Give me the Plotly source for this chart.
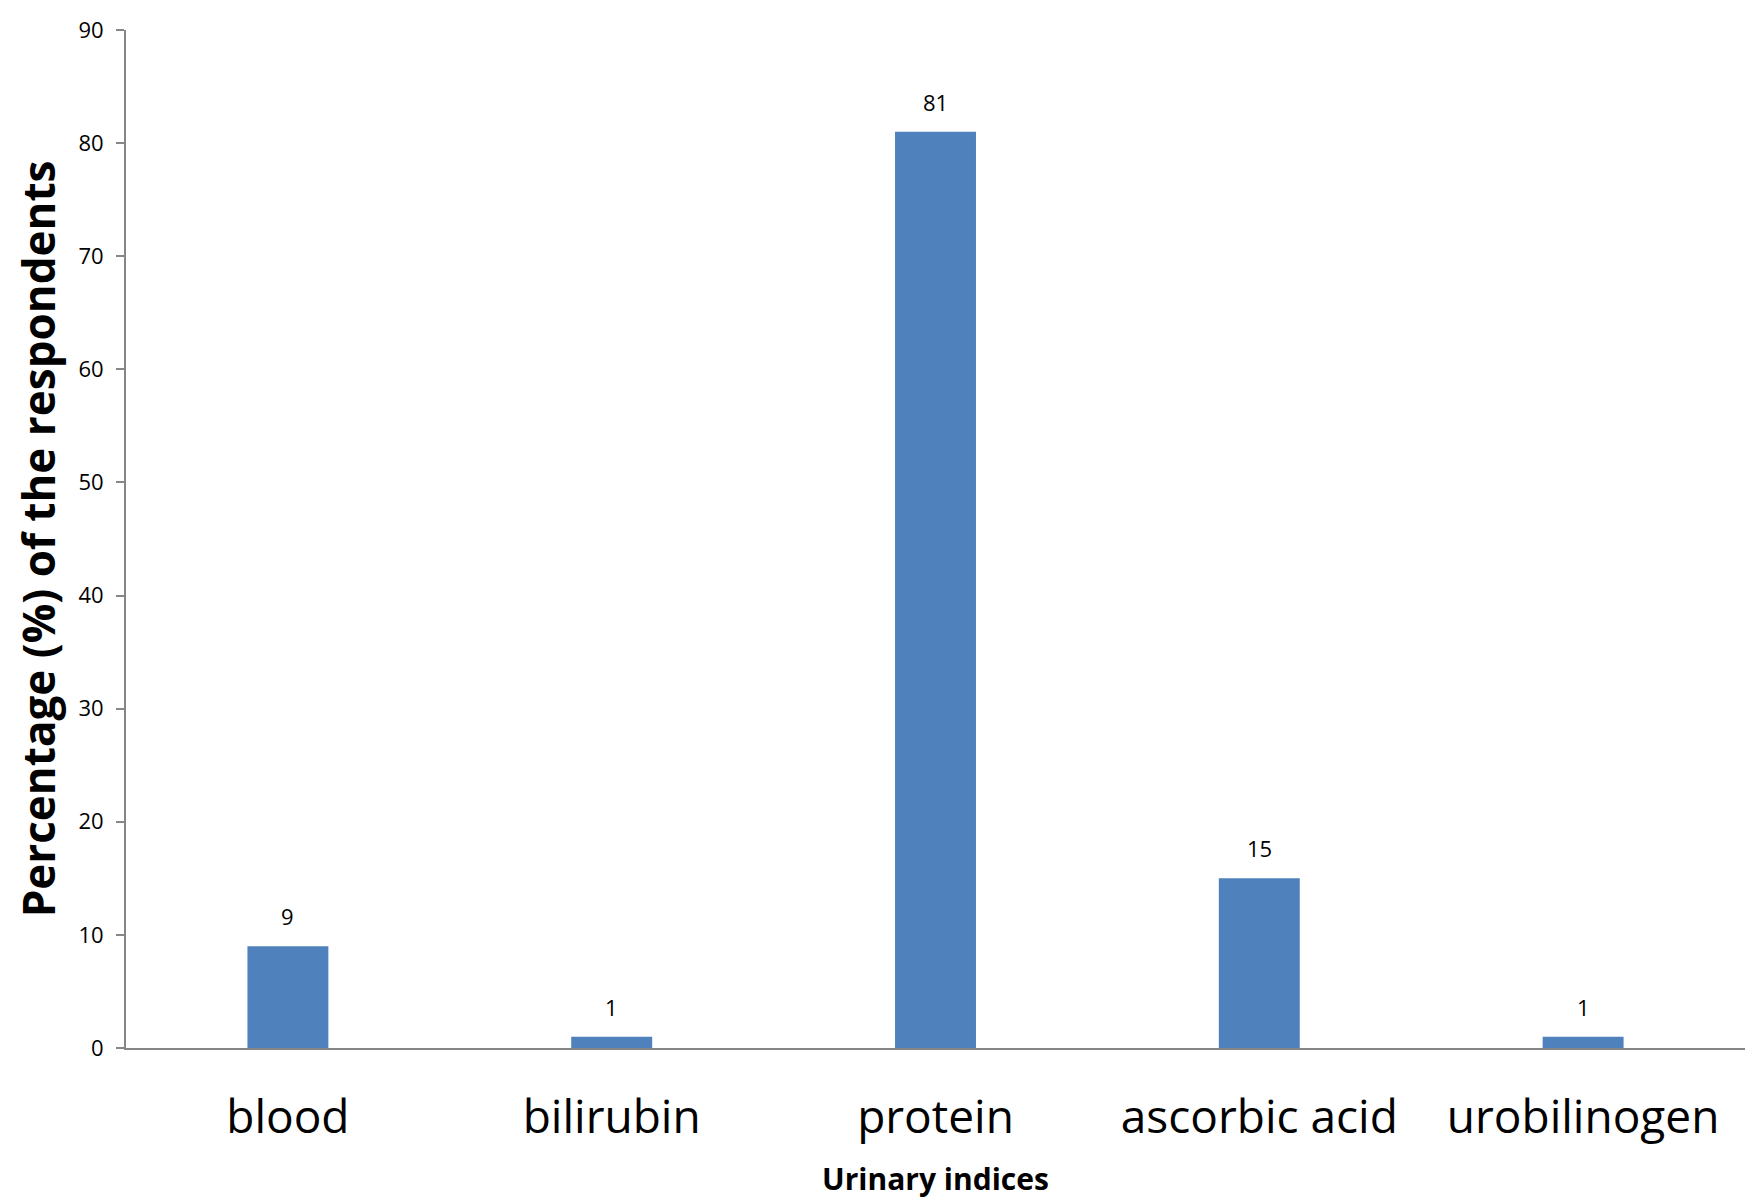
import plotly.graph_objects as go

categories = ["blood", "bilirubin", "protein", "ascorbic acid", "urobilinogen"]
values = [9, 1, 81, 15, 1]
y_ticks = [0, 10, 20, 30, 40, 50, 60, 70, 80, 90]

FONT = "Open Sans"

fig = go.Figure()
fig.add_trace(go.Bar(
    x=categories, y=values,
    marker=dict(color="#4F81BD", line=dict(width=0)),
    width=0.25,
    hoverinfo="skip",
))

for c, v in zip(categories, values):
    fig.add_annotation(x=c, y=v, text=str(v), showarrow=False,
                       yanchor="bottom", yshift=13,
                       font=dict(family=FONT, size=22, color="#000000"))

fig.update_layout(
    width=1755, height=1199,
    margin=dict(l=118, r=18, t=22, b=159),
    paper_bgcolor="white", plot_bgcolor="white",
    showlegend=False,
    bargap=0.75,
    xaxis=dict(
        automargin=False,
        showline=True, linecolor="#868686", linewidth=2,
        ticks="", showgrid=False, zeroline=False,
        ticklabelstandoff=28,
        tickfont=dict(family=FONT, size=46, color="#000000"),
        title=dict(text="<b>Urinary indices</b>", standoff=24,
                   font=dict(family=FONT, size=30, color="#000000")),
    ),
    yaxis=dict(
        automargin=False,
        range=[0, 90], tickvals=y_ticks,
        showline=True, linecolor="#868686", linewidth=2,
        ticks="outside", ticklen=8, tickcolor="#868686", tickwidth=2,
        showgrid=False, zeroline=False,
        ticklabelstandoff=8,
        tickfont=dict(family=FONT, size=22, color="#000000"),
        title=dict(text="<b>Percentage (%) of the respondents</b>", standoff=16,
                   font=dict(family=FONT, size=44, color="#000000")),
    ),
)

fig.write_html("out.html")
